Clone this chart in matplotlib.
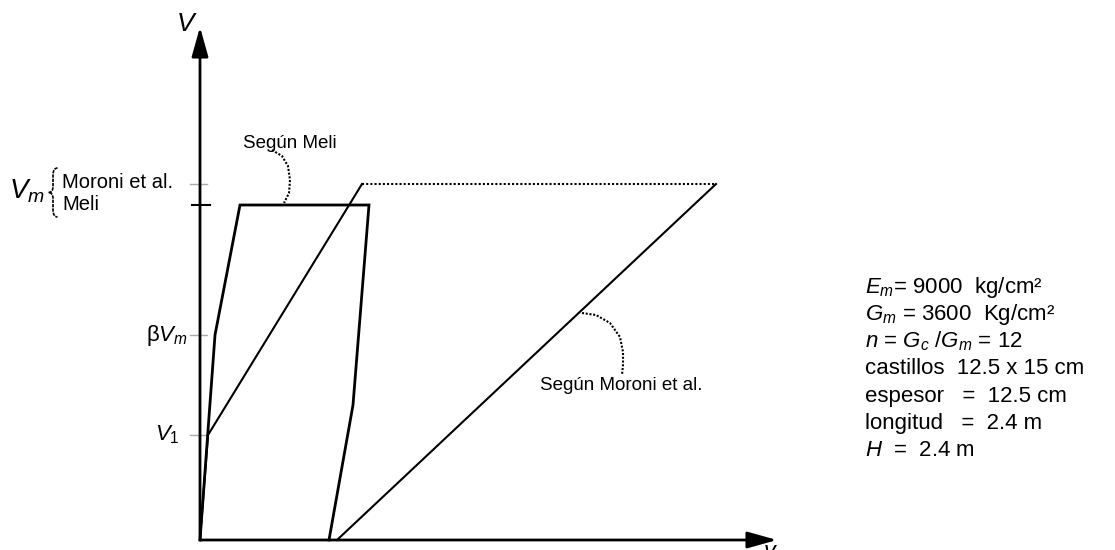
import matplotlib
matplotlib.use("Agg")
import matplotlib.pyplot as plt
from matplotlib.path import Path
from matplotlib.patches import PathPatch

plt.rcParams['font.family'] = ['Liberation Sans', 'DejaVu Sans']
plt.rcParams['mathtext.fontset'] = 'custom'
plt.rcParams['mathtext.rm'] = 'Liberation Sans'
plt.rcParams['mathtext.it'] = 'Liberation Sans:italic'

# Idealised shear-distortion envelopes (arbitrary plotting units)
meli_gamma = [0, 0.15, 0.40, 1.69, 1.53, 1.29]
meli_V = [0, 2.05, 3.35, 3.35, 1.35, 0]

moroni_gamma = [0, 0.08, 1.62, 5.16, 1.37]
moroni_V = [0, 1.05, 3.56, 3.56, 0]

# Characteristic shear levels on the V axis
V_m_moroni = 3.56
V_m_meli = 3.35
beta_V_m = 2.05
V_1 = 1.05

# Dotted leaders for the curve names
meli_leader_g = [0.72, 0.82, 0.88, 0.90, 0.89, 0.84]
meli_leader_V = [3.90, 3.84, 3.74, 3.60, 3.47, 3.37]
moroni_leader_g = [3.82, 3.96, 4.10, 4.20, 4.23, 4.23, 4.22]
moroni_leader_V = [2.27, 2.25, 2.17, 2.03, 1.88, 1.75, 1.65]

props = [r'$E_m$= 9000  kg/cm²',
         r'$G_m$ = 3600  Kg/cm²',
         r'$n$ = $G_c$ /$G_m$ = 12',
         'castillos  12.5 x 15 cm',
         'espesor   =  12.5 cm',
         'longitud   =  2.4 m',
         r'$H$  =  2.4 m']

fig = plt.figure(figsize=(11.15, 5.5), dpi=100)
ax = fig.add_axes([0, 0, 1, 1])
ax.set_xlim(-2.0, 9.15)
ax.set_ylim(-0.10, 5.40)
ax.axis('off')

fs = 13.5

# axes with arrows
ax.annotate('', xy=(5.77, 0), xytext=(0, 0),
            arrowprops=dict(arrowstyle='-|>,head_length=1.0,head_width=0.28',
                            mutation_scale=18, lw=2, color='black', shrinkA=0, shrinkB=0))
ax.annotate('', xy=(0, 5.13), xytext=(0, 0),
            arrowprops=dict(arrowstyle='-|>,head_length=1.0,head_width=0.28',
                            mutation_scale=18, lw=2, color='black', shrinkA=0, shrinkB=0))
ax.text(-0.13, 5.16, '$V$', fontsize=19, ha='center', va='center')
ax.text(5.70, -0.03, r'$\gamma$', fontsize=17, ha='center', va='top')

# ticks on the V axis
for v in [V_m_moroni, beta_V_m, V_1]:
    ax.plot([-0.10, 0.07], [v, v], color='#aaaaaa', lw=1)
ax.plot([-0.08, 0.10], [V_m_meli, V_m_meli], color='black', lw=1.5)

# Meli envelope
ax.plot(meli_gamma, meli_V, color='black', lw=2, solid_joinstyle='miter')

# Moroni et al. envelope (dotted plateau)
ax.plot(moroni_gamma[:3], moroni_V[:3], color='black', lw=1.5)
ax.plot(moroni_gamma[2:4], moroni_V[2:4], color='black', lw=1.5, ls=(0, (1, 1)))
ax.plot(moroni_gamma[3:], moroni_V[3:], color='black', lw=1.5)

# curve names with leaders
ax.plot(meli_leader_g, meli_leader_V, color='black', lw=1.5, ls=(0, (1, 0.8)))
ax.plot(moroni_leader_g, moroni_leader_V, color='black', lw=1.5, ls=(0, (1, 0.8)))
ax.text(0.43, 3.97, 'Según Meli', fontsize=fs, ha='left', va='center')
ax.text(3.40, 1.54, 'Según Moroni et al.', fontsize=fs, ha='left', va='center')

# V axis labels, with a thin brace grouping the two Vm values
ax.text(-1.73, 3.49, '$V_m$', fontsize=20, ha='center', va='center')
bx, by, bw = -1.47, 3.475, 0.045
brace = Path([(bx + bw, by + 0.245), (bx, by + 0.245), (bx, by + 0.17),
              (bx, by + 0.06),
              (bx, by), (bx - bw, by),
              (bx, by), (bx, by - 0.06),
              (bx, by - 0.17),
              (bx, by - 0.245), (bx + bw, by - 0.245)],
             [Path.MOVETO, Path.CURVE3, Path.CURVE3,
              Path.LINETO,
              Path.CURVE3, Path.CURVE3,
              Path.CURVE3, Path.CURVE3,
              Path.LINETO,
              Path.CURVE3, Path.CURVE3])
ax.add_patch(PathPatch(brace, fill=False, lw=1.2, ls=(0, (2, 0.6)), color='black'))
ax.text(-1.38, 3.57, 'Moroni et al.', fontsize=14.5, ha='left', va='center')
ax.text(-1.38, 3.36, 'Meli', fontsize=14.5, ha='left', va='center')
ax.text(-0.12, beta_V_m, 'β$V_m$', fontsize=16, ha='right', va='center')
ax.text(-0.20, V_1, '$V_1$', fontsize=16, ha='right', va='center')

# wall properties
for i, s in enumerate(props):
    ax.text(6.65, 2.53 - 0.273 * i, s, fontsize=16, ha='left', va='center')

fig.savefig('out.png', dpi=100)
